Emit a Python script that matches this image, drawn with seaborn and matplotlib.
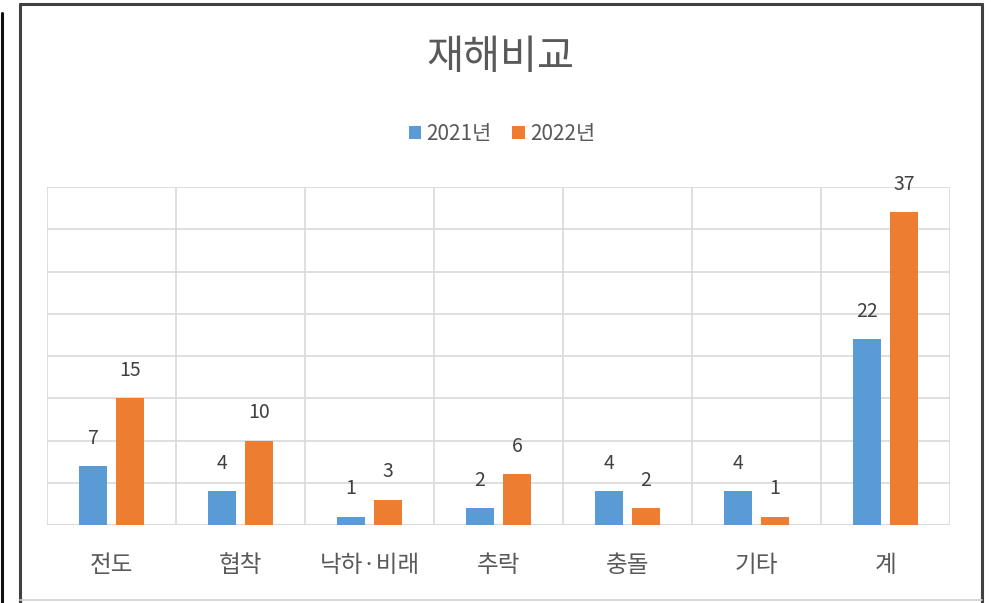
import matplotlib
matplotlib.use("Agg")
import matplotlib.pyplot as plt
from matplotlib.patches import Patch
from matplotlib.lines import Line2D
import seaborn as sns
import pandas as pd

categories = ["전도", "협착", "낙하·비래", "추락", "충돌", "기타", "계"]
series_names = ["2021년", "2022년"]
values_2021 = [7, 4, 1, 2, 4, 4, 22]
values_2022 = [15, 10, 3, 6, 2, 1, 37]
title = "재해비교"
colors = ["#5B9BD5", "#ED7D31"]

sns.set_theme(style="white")
plt.rcParams["font.family"] = ["Noto Sans CJK KR", "DejaVu Sans"]

df = pd.DataFrame({
    "category": categories * 2,
    "year": [series_names[0]] * len(categories) + [series_names[1]] * len(categories),
    "value": values_2021 + values_2022,
})

W, H = 991, 603
fig = plt.figure(figsize=(W / 100, H / 100), dpi=100)
ax = fig.add_axes([47 / W, 1 - 525 / H, (950 - 47) / W, (525 - 187) / H])

sns.barplot(data=df, x="category", y="value", hue="year", order=categories,
            hue_order=series_names, palette=colors, width=0.574, gap=0.22,
            saturation=1, ax=ax, legend=False, edgecolor="none")

ax.set_xlim(-0.5, len(categories) - 0.5)
ax.set_ylim(0, 40)
grid_c = "#D9D9D9"
for yv in range(5, 41, 5):
    ax.axhline(yv, color=grid_c, lw=1.2, zorder=0)
for xv in [i - 0.5 for i in range(len(categories) + 1)]:
    ax.axvline(xv, color=grid_c, lw=1.2, zorder=0)
for s in ax.spines.values():
    s.set_visible(False)
ax.axhline(0, color=grid_c, lw=1.5, zorder=0.5)
ax.set_yticks([])
ax.set_xlabel("")
ax.set_ylabel("")
ax.tick_params(axis="x", length=0, pad=21, labelsize=17, labelcolor="#595959")

for cont in ax.containers:
    for p in cont:
        h = p.get_height()
        ax.annotate(f"{int(h)}", (p.get_x() + p.get_width() / 2, h),
                    xytext=(0, 20), textcoords="offset points",
                    ha="center", va="center", fontsize=14, color="#404040")

fig.text(500 / W, 1 - 57 / H, title, ha="center", va="center",
         fontsize=29, color="#595959")

handles = [Patch(facecolor=c, edgecolor="none") for c in colors]
fig.legend(handles, series_names, loc="center", bbox_to_anchor=(502 / W, 1 - 134 / H),
           ncol=2, frameon=False, fontsize=15, handlelength=0.6, handleheight=0.6,
           handletextpad=0.25, columnspacing=1.0, labelcolor="#595959")

# outer frame
fc = "#404040"
fig.add_artist(Line2D([20 / W, 982 / W], [1 - 4 / H, 1 - 4 / H], color=fc, lw=2.2, transform=fig.transFigure))
fig.add_artist(Line2D([20 / W, 20 / W], [1 - 4 / H, 0], color=fc, lw=2.2, transform=fig.transFigure))
fig.add_artist(Line2D([982 / W, 982 / W], [1 - 4 / H, 0], color=fc, lw=2.2, transform=fig.transFigure))
fig.add_artist(Line2D([20 / W, 982 / W], [1 - 600 / H, 1 - 600 / H], color="#D0D0D0", lw=1.2, transform=fig.transFigure))
fig.add_artist(Line2D([1.5 / W, 1.5 / W], [1 - 13 / H, 0], color="#111111", lw=2.2, transform=fig.transFigure))

fig.savefig("out.png", dpi=100)
